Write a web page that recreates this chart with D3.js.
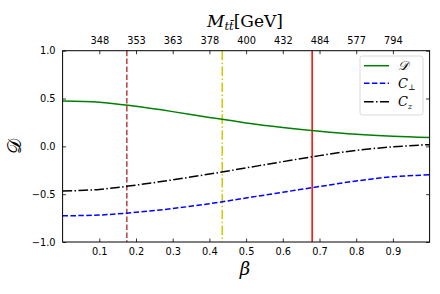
<!DOCTYPE html>
<html><head><meta charset="utf-8">
<script src="https://cdn.jsdelivr.net/npm/d3@7/dist/d3.min.js"></script>
<style>body{margin:0;background:#fff}svg{display:block}</style>
</head><body>
<svg id="c" width="440" height="294"></svg>
<script>
const beta = [0, 0.1, 0.2, 0.3, 0.4, 0.5, 0.6, 0.7, 0.8, 0.9, 1.0];
const dVals = [0.474, 0.462, 0.418, 0.363, 0.302, 0.245, 0.198, 0.158, 0.126, 0.105, 0.092];
const cPerpVals = [-0.726, -0.718, -0.69, -0.65, -0.60, -0.54, -0.48, -0.42, -0.362, -0.318, -0.297];
const cZVals = [-0.468, -0.45, -0.405, -0.35, -0.29, -0.225, -0.16, -0.097, -0.042, -0.005, 0.018];
const xTicks = [0.1, 0.2, 0.3, 0.4, 0.5, 0.6, 0.7, 0.8, 0.9];
const topTickLabels = ["348", "353", "363", "378", "400", "432", "484", "577", "794"];
const yTicks = [-1.0, -0.5, 0.0, 0.5, 1.0];
const vLines = [0.175, 0.435, 0.68];

const svg = d3.select("#c");
const L = 62.6, R = 429.6, T = 50.7, B = 242;
const x = d3.scaleLinear().domain([0, 1]).range([L, R]);
const y = d3.scaleLinear().domain([-1, 1]).range([B, T]);
const tickFont = "DejaVu Sans, sans-serif";
const serif = "DejaVu Serif, serif";

// vertical lines
const vStyles = [
  {c: "#b5403f", d: "5.5,2.4"},
  {c: "#cccc00", d: "9.6,2.4,1.5,2.4"},
  {c: "#ff0000", d: null}
];
vLines.forEach((v, i) => {
  const l = svg.append("line").attr("x1", x(v)).attr("x2", x(v)).attr("y1", T).attr("y2", B)
    .attr("stroke", vStyles[i].c).attr("stroke-width", 1.5);
  if (vStyles[i].d) l.attr("stroke-dasharray", vStyles[i].d);
});

const line = d3.line().x((d, i) => x(beta[i])).y(d => y(d)).curve(d3.curveCatmullRom.alpha(0.5));
const series = [
  {v: dVals, c: "green", d: null},
  {v: cPerpVals, c: "blue", d: "5.5,2.4"},
  {v: cZVals, c: "black", d: "9.6,2.4,1.5,2.4"}
];
series.forEach(s => {
  const p = svg.append("path").attr("d", line(s.v)).attr("fill", "none")
    .attr("stroke", s.c).attr("stroke-width", 1.5);
  if (s.d) p.attr("stroke-dasharray", s.d);
});

// axes
const gB = svg.append("g").attr("transform", `translate(0,${B})`)
  .call(d3.axisBottom(x).tickValues(xTicks).tickSize(-3.5).tickPadding(6).tickFormat(d3.format(".1f")));
const gT = svg.append("g").attr("transform", `translate(0,${T})`)
  .call(d3.axisTop(x).tickValues(xTicks).tickSize(-3.5).tickPadding(7).tickFormat((d, i) => topTickLabels[i]));
const gL = svg.append("g").attr("transform", `translate(${L},0)`)
  .call(d3.axisLeft(y).tickValues(yTicks).tickSize(-3.5).tickPadding(7).tickFormat(d => d3.format(".1f")(d).replace("-", "\u2212")));
const gR = svg.append("g").attr("transform", `translate(${R},0)`)
  .call(d3.axisRight(y).tickValues(yTicks).tickSize(-3.5).tickFormat(""));
[gB, gT, gL, gR].forEach(g => {
  g.select(".domain").remove();
  g.selectAll("text").attr("font-family", tickFont).attr("font-size", 9.8).attr("fill", "#000");
  g.selectAll("line").attr("stroke", "#000").attr("stroke-width", 0.8);
});
svg.append("rect").attr("x", L).attr("y", T).attr("width", R - L).attr("height", B - T)
  .attr("fill", "none").attr("stroke", "#000").attr("stroke-width", 1);

// labels
svg.append("text").attr("x", 245).attr("y", 275).attr("text-anchor", "middle")
  .attr("font-family", serif).attr("font-style", "italic").attr("font-size", 18).text("β");
const tl = svg.append("text").attr("x", 245).attr("y", 27).attr("text-anchor", "middle")
  .attr("font-family", serif).attr("font-size", 17);
tl.append("tspan").attr("font-style", "italic").text("M");
tl.append("tspan").attr("font-style", "italic").attr("font-size", 11.5).attr("dy", 3).text("t\u0074\u0304");
tl.append("tspan").attr("dy", -3).text("[GeV]");
svg.append("text").attr("transform", "translate(21,146) rotate(-90)").attr("text-anchor", "middle")
  .attr("font-family", serif).attr("font-size", 19).text("𝒟");

// legend
const lg = svg.append("g");
lg.append("rect").attr("x", 360).attr("y", 56).attr("width", 63).attr("height", 59).attr("rx", 2.5)
  .attr("fill", "#fff").attr("fill-opacity", 0.8).attr("stroke", "#d0d0d0").attr("stroke-width", 0.8);
const names = ["𝒟", "C", "C"];
const subs = ["", "\u22A5", "z"];
const ly = [65.7, 83.3, 101.7];
series.forEach((s, i) => {
  const l = lg.append("line").attr("x1", 364).attr("x2", 389).attr("y1", ly[i]).attr("y2", ly[i])
    .attr("stroke", s.c).attr("stroke-width", 1.5);
  if (s.d) l.attr("stroke-dasharray", s.d);
  const t = lg.append("text").attr("x", 398).attr("y", ly[i] + 4.5).attr("font-family", serif)
    .attr("font-size", 13).attr("font-style", "italic");
  t.append("tspan").text(names[i]);
  if (subs[i]) t.append("tspan").attr("font-size", 8).attr("dy", 2.5).text(subs[i]);
});
</script>
</body></html>
